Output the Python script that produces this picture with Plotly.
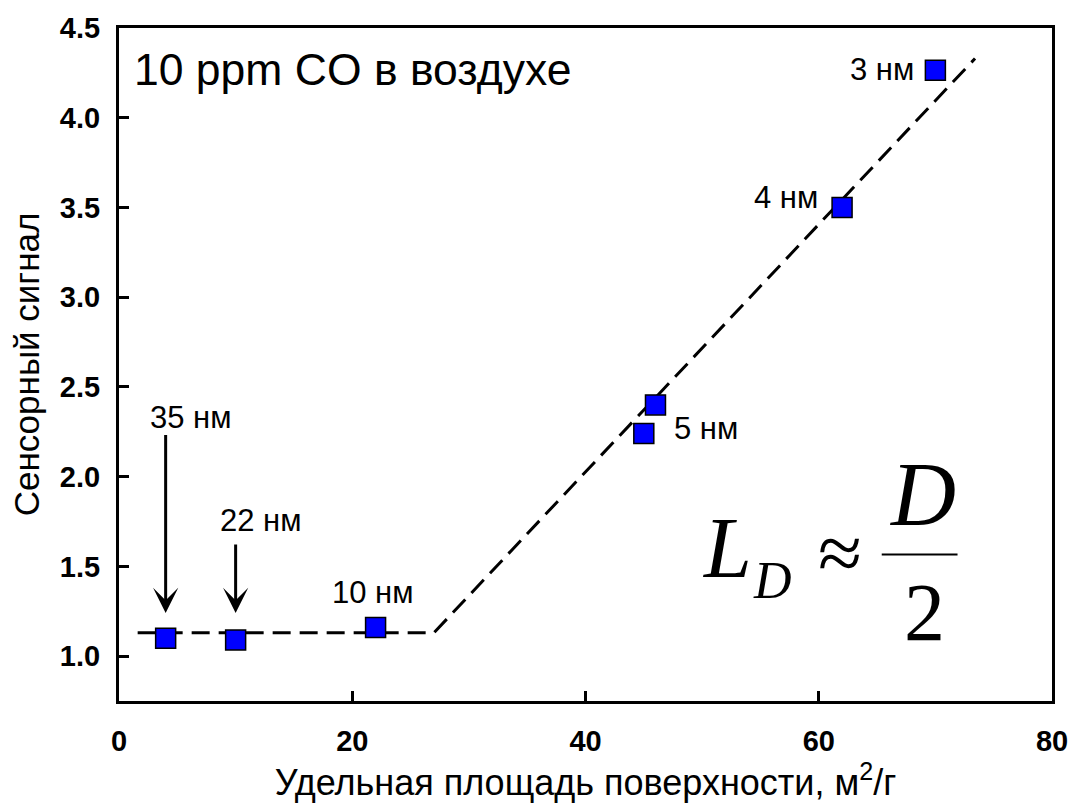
import plotly.graph_objects as go

# Measured sensor response vs. specific surface area
surface_area = [4, 10, 22, 45, 46, 62, 70]
signal = [1.10, 1.09, 1.16, 2.24, 2.40, 3.50, 4.265]

# Piecewise guide line (plateau + linear growth)
fit_x = [1.6, 27.0, 73.4]
fit_y = [1.13, 1.13, 4.33]

# Particle size labels: (text, x, y, xanchor)
size_labels = [
    ("35 нм", 6.2, 2.33, "center"),
    ("22 нм", 12.2, 1.755, "center"),
    ("10 нм", 21.8, 1.356, "center"),
    ("5 нм", 47.4, 2.27, "left"),
    ("4 нм", 60.1, 3.556, "right"),
    ("3 нм", 68.3, 4.267, "right"),
]

# Arrows pointing at the two largest particle sizes: (x, tail_y, head_y)
arrows = [(4.0, 2.24, 1.24), (10.0, 1.63, 1.24)]

x_ticks = [0, 20, 40, 60, 80]
y_ticks = [1.0, 1.5, 2.0, 2.5, 3.0, 3.5, 4.0, 4.5]

SANS = "Liberation Sans, Arial, sans-serif"
SERIF = "Liberation Serif, Times New Roman, serif"

fig = go.Figure()

fig.add_trace(go.Scatter(
    x=fit_x, y=fit_y, mode="lines",
    line=dict(color="black", width=3, dash="18px,9px"),
    hoverinfo="skip", showlegend=False,
))

fig.add_trace(go.Scatter(
    x=surface_area, y=signal, mode="markers",
    marker=dict(symbol="square", size=20, color="#0000ff",
                line=dict(color="black", width=1.5)),
    showlegend=False,
))

annotations = []
for text, x, y, xa in size_labels:
    annotations.append(dict(
        x=x, y=y, xref="x", yref="y", text=text, showarrow=False,
        xanchor=xa, yanchor="middle",
        font=dict(family=SANS, size=31, color="black"),
    ))

for x, y0, y1 in arrows:
    annotations.append(dict(
        x=x, y=y1, ax=x, ay=y0, xref="x", yref="y", axref="x", ayref="y",
        text="", showarrow=True, arrowhead=3, arrowsize=1.4,
        arrowwidth=3, arrowcolor="black", standoff=0,
    ))

annotations.append(dict(
    x=1.1, y=4.267, xref="x", yref="y", text="10 ppm CO в воздухе",
    showarrow=False, xanchor="left", yanchor="middle",
    font=dict(family=SANS, size=44.5, color="black"),
))

# Formula  L_D ≈ D / 2
formula_parts = [
    ("<i>L</i>", 52.1, 1.60, 86, "center"),
    ("<i>D</i>", 56.0, 1.42, 52, "center"),
    ("≈", 61.8, 1.572, 80, "center"),
    ("<i>D</i>", 68.9, 1.90, 90, "center"),
    ("2", 69.1, 1.245, 82, "center"),
]
for text, x, y, size, xa in formula_parts:
    annotations.append(dict(
        x=x, y=y, xref="x", yref="y", text=text, showarrow=False,
        xanchor=xa, yanchor="middle",
        font=dict(family=SERIF, size=size, color="black"),
    ))

fig.add_shape(type="line", xref="x", yref="y",
              x0=65.4, x1=71.9, y0=1.567, y1=1.567,
              line=dict(color="black", width=2))

fig.update_layout(
    width=1080, height=807,
    margin=dict(l=119, r=20, t=26, b=106),
    paper_bgcolor="white", plot_bgcolor="white",
    annotations=annotations,
    xaxis=dict(
        range=[0, 80], tickvals=x_ticks, ticks="inside", ticklen=10,
        tickwidth=2.5, tickcolor="black", showline=True, linewidth=3,
        linecolor="black", mirror=True, showgrid=False, zeroline=False,
        tickfont=dict(family=SANS, size=29, color="black", weight="bold"),
        ticklabelstandoff=12,
        title=dict(text="Удельная площадь поверхности, м<sup>2</sup>/г",
                   font=dict(family=SANS, size=36, color="black"), standoff=10),
    ),
    yaxis=dict(
        range=[0.75, 4.5], tickvals=y_ticks, tickformat=".1f",
        ticks="inside", ticklen=10, tickwidth=2.5, tickcolor="black",
        showline=True, linewidth=3, linecolor="black", mirror=True,
        showgrid=False, zeroline=False,
        tickfont=dict(family=SANS, size=29, color="black", weight="bold"),
        ticklabelstandoff=10,
        title=dict(text="Сенсорный сигнал",
                   font=dict(family=SANS, size=35, color="black"), standoff=10),
    ),
)

fig.write_html("out.html")
